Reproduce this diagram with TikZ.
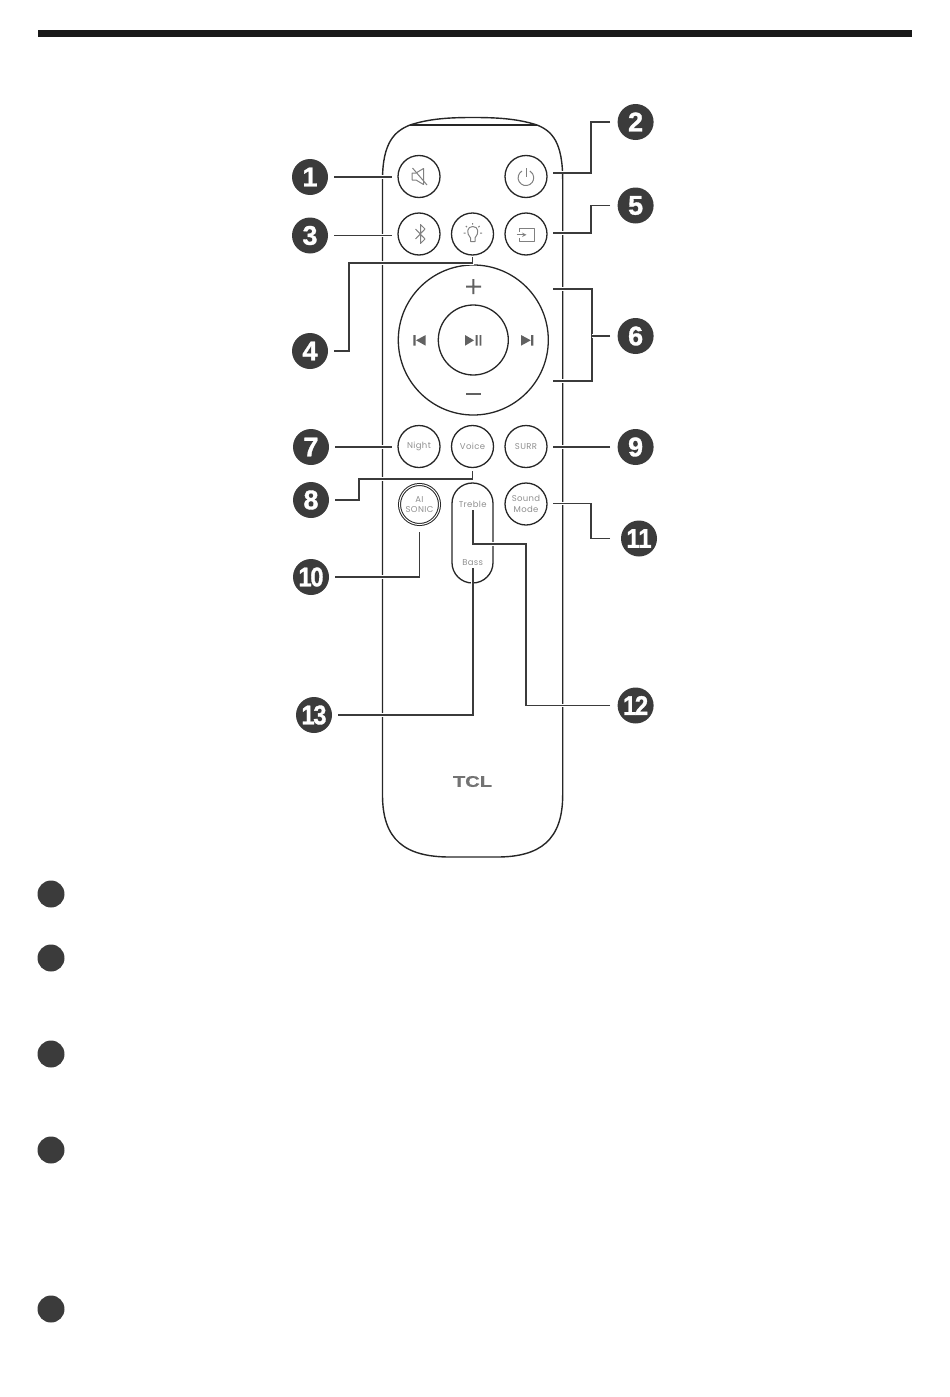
\documentclass[tikz,border=0pt]{standalone}
\usepackage{fontspec}
\usepackage{tikz}
\usetikzlibrary{calc,positioning}
\newfontfamily\badgefont[BoldFeatures={FakeBold=1.2}]{Liberation Sans}
\newfontfamily\logofont[BoldFeatures={FakeBold=0.8}]{Liberation Sans}
\newfontfamily\labelfont[LetterSpace=4]{Poppins}
\definecolor{inkdark}{HTML}{3B3B3B}
\definecolor{inkgrey}{HTML}{808080}
\definecolor{inklabel}{HTML}{8F8F8F}
\newcommand{\twodigit}[2]{\scalebox{0.88}[1]{#1\kern-1.5pt #2}}
\tikzset{
  btn/.style={circle, draw=black!85, line width=1.3pt, minimum size=42pt, inner sep=0pt, outer sep=6pt,
              font=\labelfont\fontsize{8.5}{10.6}\selectfont, text=inklabel, align=center},
  badge/.style={circle, fill=inkdark, minimum size=36pt, inner sep=0pt, outer sep=6pt, text=white,
              font=\badgefont\bfseries\fontsize{27}{27}\selectfont},
  bullet/.style={circle, fill=inkdark, minimum size=27pt, inner sep=0pt},
  leader/.style={draw=inkdark, line width=1.6pt, preaction={draw=white, line width=3.5pt}},
  icon/.style={draw=inkgrey, line width=1pt, line join=round},
  solidicon/.style={fill=black!62, draw=none},
  capslabel/.style={font=\labelfont\fontsize{8.5}{10}\selectfont, text=inklabel, inner sep=1pt, outer sep=1.5pt},
}
\begin{document}
\begin{tikzpicture}[x=1pt,y=-1pt]
\useasboundingbox (0,0) rectangle (950,1397);
% header rule
\fill[black!90] (38,30) rectangle (912,37);
%
% remote body
\draw[line width=1.4pt, black!85] (382.5,795) -- (382.5,180)
  .. controls (382.5,142) and (395,131) .. (410,125)
  .. controls (430,118.5) and (450,117.5) .. (473,117.5)
  .. controls (496,117.5) and (517,118.5) .. (537,125)
  .. controls (552,131) and (562.7,142) .. (562.7,180)
  -- (562.7,795)
  .. controls (562.7,840) and (540,857) .. (497,857)
  -- (450,857)
  .. controls (405,857) and (382.5,840) .. (382.5,795);
\draw[line width=1.2pt, black!85] (410,125) -- (537,125);
\node[font=\logofont\bfseries\fontsize{15.5}{15.5}\selectfont, text=black!55, xscale=1.3, inner sep=0pt] (logo) at (472.5,781.5) {TCL};
%
% buttons
\node[btn] (mute) at (419,176.5) {};
\node[btn] (power) at (526,176.5) {};
\node[btn] (bt) at (419,234) {};
\node[btn, outer sep=2pt] (light) at (472.5,234) {};
\node[btn] (input) at (526,234) {};
\node[btn, minimum size=150pt] (ring) at (473.3,340) {};
\node[btn, minimum size=70pt] (play) at (473.3,340) {};
\node[btn] (night) at (419,446.5) {Night};
\node[btn, outer sep=3pt] (voice) at (472.5,446.5) {Voice};
\node[btn] (surr) at (526,446.5) {SURR};
\node[btn, double=white, double distance=1pt, line width=1pt, minimum size=40pt, outer sep=7.5pt] (ai) at (419.5,504.5) {AI\\SONIC};
\node[btn] (sound) at (526,504) {Sound\\Mode};
\node[draw=black!85, line width=1.3pt, rounded corners=20.4pt, minimum width=41pt, minimum height=100pt, inner sep=0pt] (capsule) at (472.5,533) {};
\node[capslabel] (treble) at (472.7,504.5) {Treble};
\node[capslabel] (bass) at (472.7,562.5) {Bass};
%
% icons
\draw[icon] (412,173) -- (416,173) -- (423.5,168.5) -- (423.5,184.5) -- (416,180) -- (412,180) -- cycle;
\draw[icon] (412.5,168) -- (427,185);
\draw[icon] (522,171) arc[start angle=240, end angle=-60, radius=7.8];
\draw[icon] (526,168) -- (526,177);
\draw[icon] (415.5,229) -- (425,239) -- (420.5,243.5) -- (420.5,224.5) -- (425,229) -- (415.5,239);
\draw[icon] (470.5,238) .. controls (466,233) and (467,226.5) .. (472.7,226.5) .. controls (478.5,226.5) and (479.5,233) .. (475,238) -- (475,241.5) -- (470.5,241.5) -- cycle;
\draw[icon] (463.5,233) -- (465.5,233) (480,233) -- (482,233) (472.7,223) -- (472.7,224.5) (465.8,226) -- (467,227.2) (479.6,226) -- (478.4,227.2);
\draw[icon] (519.5,231.5) -- (519.5,228) -- (534,228) -- (534,241.5) -- (519.5,241.5) -- (519.5,238);
\draw[icon, ->, >=stealth] (516.5,234.8) -- (526.5,234.8);
\fill[solidicon] (472.3,279) rectangle (474.3,294) (466,285.5) rectangle (481,287.5);
\fill[solidicon] (466,393) rectangle (481,395);
\fill[solidicon] (413.3,335) rectangle (415.5,345.7) (425.7,335) -- (425.7,345.7) -- (416,340.3) -- cycle;
\fill[solidicon] (531.1,335) rectangle (533.3,345.7) (521,335) -- (521,345.7) -- (530.8,340.3) -- cycle;
\fill[solidicon] (465,335) -- (465,345.7) -- (474,340.3) -- cycle (475.7,335) rectangle (477.5,345.7) (479.5,335) rectangle (481.3,345.7);
%
% number badges
\node[badge] (b1) at (310,177) {1};
\node[badge, outer sep=7.5pt] (b2) at (635.6,122) {2};
\node[badge] (b3) at (310,235.5) {3};
\node[badge] (b4) at (310,351) {4};
\node[badge, outer sep=7.5pt] (b5) at (635.6,205.5) {5};
\node[badge, outer sep=7.5pt] (b6) at (635.6,336) {6};
\node[badge] (b7) at (311,447) {7};
\node[badge] (b8) at (311,500) {8};
\node[badge, outer sep=7.5pt] (b9) at (635.6,447) {9};
\node[badge] (b10) at (311,577) {\twodigit{1}{0}};
\node[badge, outer sep=11pt] (b11) at (639,538.5) {\twodigit{1}{1}};
\node[badge, outer sep=7.5pt] (b12) at (635.6,705.5) {\twodigit{1}{2}};
\node[badge] (b13) at (314,715) {\twodigit{1}{3}};
%
% elbows
\coordinate (e2) at (591,172.7);
\coordinate (e4) at (349,263);
\coordinate (e5) at (591,233);
\coordinate (t6) at (553,289);
\coordinate (u6) at (592,289);
\coordinate (v6) at (592,381);
\coordinate (w6) at (553,381);
\coordinate (e8) at (358.7,479);
\coordinate (e11) at (591,503.3);
\coordinate (e12) at (526,544);
%
% leaders
\draw[leader] (b1.east) -- (b1.east -| mute.west);
\draw[leader] (b2.west) -| (e2) -- (e2 -| power.east);
\draw[leader] (b3.east) -- (b3.east -| bt.west);
\draw[leader] (b4.east) -| (e4) -- (e4 -| light.south) -- (light.south);
\draw[leader] (b5.west) -| (e5) -- (e5 -| input.east);
\draw[leader] (t6) -- (u6) -- (v6) -- (w6);
\draw[leader] (b6.west) -- (b6.west -| u6);
\draw[leader] (b7.east) -- (b7.east -| night.west);
\draw[leader] (b8.east) -| (e8) -- (e8 -| voice.south) -- (voice.south);
\draw[leader] (b9.west) -- (b9.west -| surr.east);
\draw[leader] (b10.east) -| (ai.south);
\draw[leader] (b11.west) -| (e11) -- (e11 -| sound.east);
\draw[leader] (b12.west) -| (e12) -| (treble.south);
\draw[leader] (b13.east) -| (bass.south);
%
% bullets
\node[bullet] (p1) at (51,894) {};
\node[bullet] (p2) at (51,958) {};
\node[bullet] (p3) at (51,1054) {};
\node[bullet] (p4) at (51,1150) {};
\node[bullet] (p5) at (51,1309) {};
\end{tikzpicture}
\end{document}
